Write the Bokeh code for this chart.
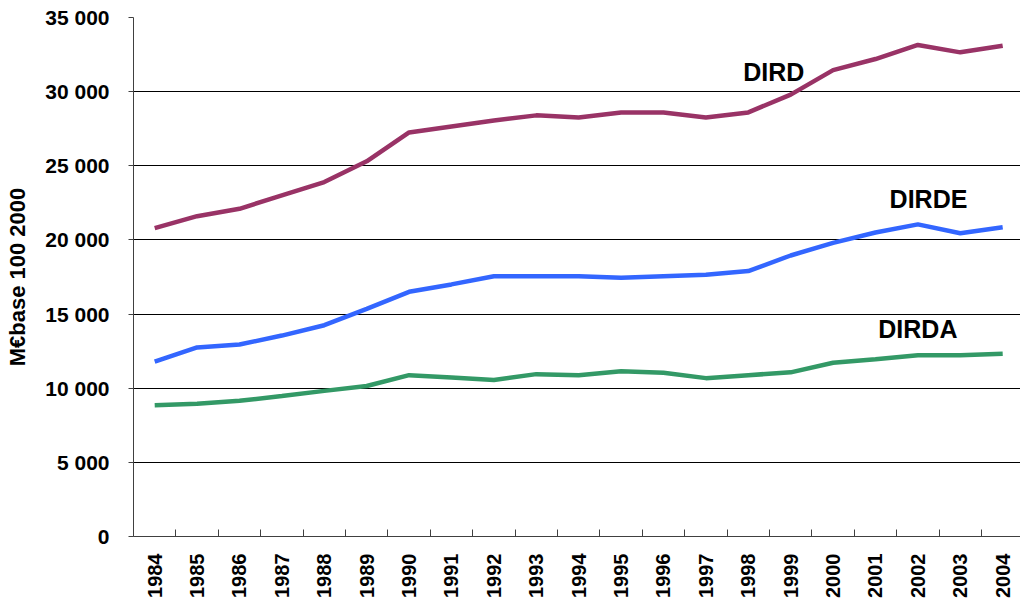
import math
from bokeh.plotting import figure
from bokeh.models import Range1d, FixedTicker, Label
from bokeh.embed import file_html
from bokeh.resources import INLINE

years = list(range(1984, 2005))
year_labels = [str(y) for y in years]

dird = [20800, 21600, 22100, 23000, 23900, 25300, 27250, 27650, 28050, 28400, 28250,
        28600, 28600, 28250, 28600, 29800, 31450, 32200, 33150, 32650, 33100]
dirde = [11800, 12750, 12950, 13550, 14250, 15350, 16500, 17000, 17550, 17550, 17550,
         17450, 17550, 17650, 17900, 18950, 19800, 20500, 21050, 20450, 20850]
dirda = [8850, 8950, 9150, 9480, 9820, 10150, 10880, 10720, 10560, 10950, 10870,
         11150, 11050, 10680, 10880, 11070, 11720, 11950, 12220, 12220, 12330]

series_names = ["DIRD", "DIRDE", "DIRDA"]
series_colors = ["#993366", "#3366FF", "#339966"]

y_ticks = [0, 5000, 10000, 15000, 20000, 25000, 30000, 35000]
y_tick_labels = ["0", "5 000", "10 000", "15 000", "20 000", "25 000", "30 000", "35 000"]
y_title = "M€base 100 2000"

FONT = "Liberation Sans"

p = figure(width=1020, height=600, output_backend="svg", toolbar_location=None,
           x_range=Range1d(1983.5, 2004.42), y_range=Range1d(0, 35000),
           min_border_left=133, min_border_right=0, min_border_top=17, min_border_bottom=60)
p.outline_line_color = None
p.background_fill_color = "white"
p.border_fill_color = "white"

# grid
p.xgrid.grid_line_color = None
p.ygrid.grid_line_color = "#000000"
p.ygrid.grid_line_width = 1

# y axis
p.yaxis.ticker = FixedTicker(ticks=y_ticks)
p.yaxis.major_label_overrides = {t: l for t, l in zip(y_ticks, y_tick_labels)}
p.yaxis.major_label_text_font = FONT
p.yaxis.major_label_text_font_style = "bold"
p.yaxis.major_label_text_font_size = "21px"
p.yaxis.major_label_text_color = "#000000"
p.yaxis.major_tick_in = 0
p.yaxis.major_tick_out = 5
p.yaxis.minor_tick_line_color = None
p.yaxis.major_label_standoff = 19
p.yaxis.axis_line_color = "#404040"
p.yaxis.major_tick_line_color = "#404040"
p.yaxis.axis_label = y_title
p.yaxis.axis_label_text_font = FONT
p.yaxis.axis_label_text_font_style = "bold"
p.yaxis.axis_label_text_font_size = "22px"
p.yaxis.axis_label_text_color = "#000000"
p.yaxis.axis_label_standoff = 12

# x axis
boundaries = [y - 0.5 for y in years]
p.xaxis.ticker = FixedTicker(ticks=years, minor_ticks=boundaries)
p.xaxis.major_label_overrides = {y: l for y, l in zip(years, year_labels)}
p.xaxis.major_label_orientation = math.pi / 2
p.xaxis.major_label_text_font = FONT
p.xaxis.major_label_text_font_style = "bold"
p.xaxis.major_label_text_font_size = "20px"
p.xaxis.major_label_text_color = "#000000"
p.xaxis.major_tick_in = 0
p.xaxis.major_tick_out = 0
p.xaxis.minor_tick_in = 7
p.xaxis.minor_tick_out = 0
p.xaxis.minor_tick_line_color = "#404040"
p.xaxis.axis_line_color = "#404040"
p.xaxis.major_label_standoff = 17

for vals, color in zip([dird, dirde, dirda], series_colors):
    p.line(years, vals, line_color=color, line_width=4.5)

label_anchor = {"DIRD": (1998.6, 31320), "DIRDE": (2002.25, 22750), "DIRDA": (2002.0, 13980)}
for name in series_names:
    lx, ly = label_anchor[name]
    p.add_layout(Label(x=lx, y=ly, text=name, text_align="center", text_baseline="alphabetic",
                       text_font=FONT, text_font_style="bold", text_font_size="25px",
                       text_color="#000000"))

open("out.html", "w").write(file_html(p, INLINE))
